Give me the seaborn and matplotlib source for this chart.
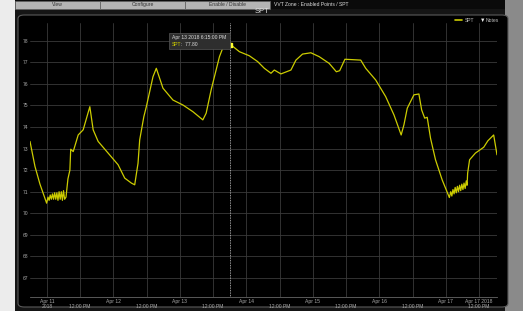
import numpy as np
import pandas as pd
import seaborn as sns
import matplotlib.pyplot as plt
from matplotlib.patches import Rectangle, FancyBboxPatch

# hours after Apr 11 2018 00:00 and the SPT reading at that time
hours = [-6.1, -4.3, -2.5, -0.1,
         0.4, 0.8, 1.2, 1.6, 2.0, 2.4, 2.8, 3.2, 3.6, 4.0, 4.4, 4.8, 5.2, 5.6, 6.0, 6.4, 6.9,
         7.6, 8.3, 8.6, 9.5, 11.3, 13.1, 15.5, 16.7, 18.5, 22.1, 25.7, 28.1, 30.5, 31.7,
         32.9, 33.5, 35.0, 35.9, 38.3, 39.5, 40.1, 41.9, 45.5, 49.1, 52.7, 56.3, 57.5,
         59.3, 62.3, 65.3, 66.5, 69.5, 73.1, 76.1, 78.5, 80.9, 82.1, 84.5, 88.1, 89.9,
         92.3, 95.3, 98.3, 101.9, 104.5, 105.7, 107.6, 113.3, 115.1, 118.7, 122.3, 125.3,
         127.9, 128.9, 130.1, 132.5, 134.3, 135.3, 136.4, 137.3, 138.5, 140.3, 142.7, 145.3,
         145.8, 146.2, 146.6, 147.0, 147.4, 147.8, 148.2, 148.6, 149.0, 149.4, 149.8, 150.2,
         150.6, 151.0, 151.4, 151.7,
         151.9, 152.6, 154.7, 157.7, 159.2, 161.3, 162.5]
spt = [73.33, 72.17, 71.35, 70.47,
       70.75, 70.6, 70.85, 70.65, 70.9, 70.65, 70.95, 70.65, 70.95, 70.6, 71.0, 70.65, 71.0, 70.6, 71.05, 70.65, 70.75,
       71.6, 72.0, 72.97, 72.86, 73.63, 73.87, 74.94, 73.87, 73.33, 72.79, 72.25, 71.63, 71.4, 71.32,
       72.32, 73.4, 74.48, 74.94, 76.33, 76.72, 76.49, 75.8, 75.25, 75.02, 74.71, 74.33, 74.64,
       75.72, 77.26, 78.26, 77.80, 77.49, 77.3, 77.03, 76.72, 76.49, 76.64, 76.46, 76.64, 77.1,
       77.38, 77.44, 77.26, 76.95, 76.56, 76.61, 77.14, 77.1, 76.72, 76.18, 75.41, 74.56,
       73.63, 74.1, 74.87, 75.49, 75.53, 74.79, 74.41, 74.45, 73.48, 72.48, 71.55, 70.73,
       71.0, 70.8, 71.1, 70.9, 71.2, 70.95, 71.25, 71.0, 71.3, 71.05, 71.35, 71.1,
       71.4, 71.15, 71.5, 71.3,
       71.86, 72.48, 72.79, 73.06, 73.36, 73.63, 72.71]

y_ticks = [67, 68, 69, 70, 71, 72, 73, 74, 75, 76, 77, 78]
x_tick_labels = ["Apr 11\n2018", "\n12:00 PM", "Apr 12", "\n12:00 PM", "Apr 13", "\n12:00 PM",
                 "Apr 14", "\n12:00 PM", "Apr 15", "\n12:00 PM", "Apr 16", "\n12:00 PM",
                 "Apr 17", "Apr 17 2018\n12:00 PM"]
hover_time = "Apr 13 2018 6:15:00 PM"
hover_value = 77.80

base = pd.Timestamp("2018-04-11")
df = pd.DataFrame({"Time": base + pd.to_timedelta(hours, unit="h"), "SPT": spt})
x_ticks = [base + pd.Timedelta(hours=12 * i) for i in range(len(x_tick_labels))]
hover_x = base + pd.Timedelta(hours=66.25)

sns.set_style("dark")
plt.rcParams["font.family"] = ["Liberation Sans", "DejaVu Sans"]

fig = plt.figure(figsize=(5.23, 3.11), dpi=100)
fig.patch.set_facecolor("#d8d8d8")

W, H = 523.0, 311.0
def box(x0, y0, x1, y1, **kw):
    kw.setdefault("zorder", -5)
    return Rectangle((x0 / W, 1 - y1 / H), (x1 - x0) / W, (y1 - y0) / H,
                     transform=fig.transFigure, **kw)

# window chrome
fig.patches.append(box(0, 0, 15, 311, facecolor="#ececec", edgecolor="none"))
fig.patches.append(box(505, 0, 523, 311, facecolor="#8a8a8a", edgecolor="none"))
fig.patches.append(box(15, 0, 505, 311, facecolor="#151515", edgecolor="none"))
fig.patches.append(box(15, 0, 505, 9, facecolor="#0a0a0a", edgecolor="none"))
for x0, x1, name in [(15, 100, "View"), (100, 185, "Configure"), (185, 270, "Enable / Disable")]:
    fig.patches.append(box(x0, 0.5, x1, 8.5, facecolor="#b4b4b4", edgecolor="#606060", lw=0.5))
    fig.text((x0 + x1) / 2 / W, 1 - 4.5 / H, name, fontsize=3.6, color="#333333",
             ha="center", va="center")
fig.text(274 / W, 1 - 4.5 / H, "VVT Zone : Enabled Points / SPT", fontsize=3.6,
         color="#dddddd", ha="left", va="center")
fig.patches.append(FancyBboxPatch((18 / W, 4 / H), 490 / W, 1 - 19 / H,
                                  boxstyle="round,pad=0,rounding_size=0.012",
                                  transform=fig.transFigure, facecolor="#000000",
                                  edgecolor="#5a5a5a", lw=0.8, zorder=-4))
fig.text(262 / W, 1 - 11.5 / H, "SPT", fontsize=5.5, color="#dddddd", ha="center", va="center")

ax = fig.add_axes([30 / W, 14 / H, 467 / W, 274 / H])
ax.set_facecolor("#000000")
sns.lineplot(data=df, x="Time", y="SPT", ax=ax, color="#cccc00", lw=0.9, legend=False)

ax.set_xlim(df["Time"].iloc[0], df["Time"].iloc[-1])
ax.set_ylim(66.12, 78.82)
ax.set_yticks(y_ticks)
ax.set_yticklabels([str(v) for v in y_ticks], fontsize=3.6, color="#aaaaaa")
ax.set_xticks(x_ticks)
ax.set_xticklabels(x_tick_labels, fontsize=3.6, color="#aaaaaa", linespacing=1.0)
ax.tick_params(length=0, pad=1.5)
ax.grid(True, color="#3a3a3a", lw=0.6)
for s in ["top", "right", "left"]:
    ax.spines[s].set_visible(False)
ax.spines["bottom"].set_color("#666666")
ax.spines["bottom"].set_linewidth(0.6)
ax.set_xlabel("")
ax.set_ylabel("")

# hover cursor and tooltip
ax.axvline(hover_x, color="#cccccc", lw=0.6, ls=(0, (1, 1)))
ax.plot([hover_x], [hover_value], marker="s", ms=3, color="#ffff33", zorder=5)
fig.patches.append(box(169, 33, 230, 49, facecolor="#2e2e2e", edgecolor="#555555",
                       lw=0.5, zorder=3))
fig.text(172 / W, 1 - 37.5 / H, hover_time, fontsize=3.6, color="#dddddd", va="center")
fig.text(172 / W, 1 - 44.5 / H, "SPT", fontsize=3.6, color="#cccc00", va="center")
fig.text(181 / W, 1 - 44.5 / H, ":  %.2f" % hover_value, fontsize=3.6, color="#dddddd",
         va="center")

# legend in the top right
fig.lines.append(plt.Line2D([455 / W, 462 / W], [1 - 20 / H] * 2, transform=fig.transFigure,
                            color="#cccc00", lw=1.2))
fig.text(465 / W, 1 - 20 / H, "SPT", fontsize=3.6, color="#bbbbbb", va="center")
fig.text(480 / W, 1 - 20 / H, "\u25BC", fontsize=4, color="#eeeeee", va="center")
fig.text(486 / W, 1 - 20 / H, "Notes", fontsize=3.6, color="#bbbbbb", va="center")

plt.savefig("out.png", dpi=100, facecolor=fig.get_facecolor())
